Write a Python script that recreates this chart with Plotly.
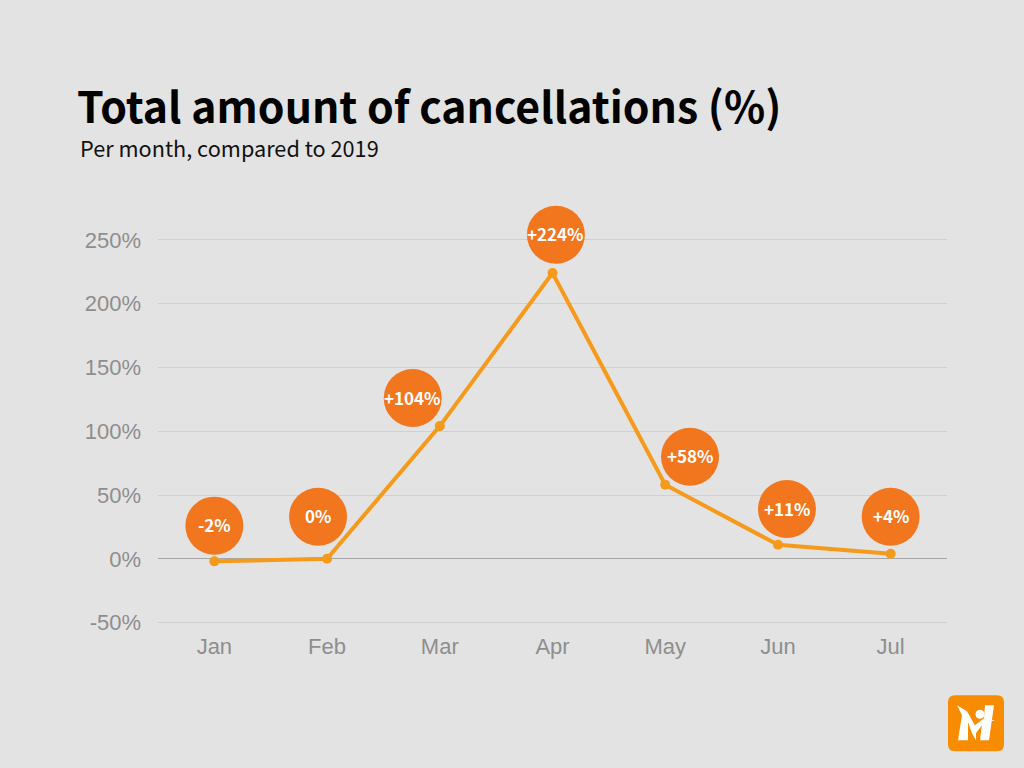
"""
plot.py - Monthly cancellations compared to 2019, line chart with labelled bubbles.
"""
import plotly.graph_objects as go

months = ["Jan", "Feb", "Mar", "Apr", "May", "Jun", "Jul"]
month_idx = [0, 1, 2, 3, 4, 5, 6]
cancellations = [-2, 0, 104, 224, 58, 11, 4]
bubble_labels = ["-2%", "0%", "+104%", "+224%", "+58%", "+11%", "+4%"]
# bubbles sit next to the points, not on them
bubble_x = [0, 0.92, 1.76, 3.03, 4.22, 5.08, 6]
bubble_y = [26, 33, 126, 254, 80, 39, 33]
y_ticks = [-50, 0, 50, 100, 150, 200, 250]
y_tick_labels = ["-50%", "0%", "50%", "100%", "150%", "200%", "250%"]

BG = "#e3e3e3"
LINE = "#f59a1b"
BUBBLE = "#f1761e"
LOGO = "#f78c00"
W, H = 1024, 768
# axis runs past both end ticks so the Apr bubble and the -50 gridline are kept
LEFT, RIGHT, TOP, BOTTOM = 158, 947, 175.5, 628.7


def px_x(x):
    return (x - LEFT) / (RIGHT - LEFT)


def px_y(y):
    return (BOTTOM - y) / (BOTTOM - TOP)


def poly(points):
    return "M" + " L".join(f"{px_x(x):.5f},{px_y(y):.5f}" for x, y in points) + " Z"


def rounded_rect(x0, y0, x1, y1, r):
    return (
        f"M{px_x(x0 + r):.5f},{px_y(y0):.5f} L{px_x(x1 - r):.5f},{px_y(y0):.5f} "
        f"Q{px_x(x1):.5f},{px_y(y0):.5f} {px_x(x1):.5f},{px_y(y0 + r):.5f} "
        f"L{px_x(x1):.5f},{px_y(y1 - r):.5f} "
        f"Q{px_x(x1):.5f},{px_y(y1):.5f} {px_x(x1 - r):.5f},{px_y(y1):.5f} "
        f"L{px_x(x0 + r):.5f},{px_y(y1):.5f} "
        f"Q{px_x(x0):.5f},{px_y(y1):.5f} {px_x(x0):.5f},{px_y(y1 - r):.5f} "
        f"L{px_x(x0):.5f},{px_y(y0 + r):.5f} "
        f"Q{px_x(x0):.5f},{px_y(y0):.5f} {px_x(x0 + r):.5f},{px_y(y0):.5f} Z"
    )


fig = go.Figure()

fig.add_trace(go.Scatter(x=month_idx, y=cancellations, mode="lines+markers",
                         line=dict(color=LINE, width=4),
                         marker=dict(color=LINE, size=10),
                         cliponaxis=False, hoverinfo="skip"))

fig.add_trace(go.Scatter(x=bubble_x, y=bubble_y, mode="markers",
                         marker=dict(color=BUBBLE, size=58),
                         cliponaxis=False, hoverinfo="skip"))

# logo in the bottom right corner
logo_shapes = [
    dict(type="path", xref="paper", yref="paper", path=rounded_rect(948, 695, 1004, 751, 7),
         fillcolor=LOGO, line_width=0, layer="above"),
]
for pts in (
    [(957, 705), (967, 711), (976, 727), (976, 740), (972, 733), (968, 722), (968, 740), (958, 740), (962, 715)],
    [(985, 705), (994, 705), (989, 740), (980, 740), (982, 724), (976, 733), (975, 725), (984, 718)],
    [(974, 726), (984, 719), (995, 720), (984, 723), (976, 732)],
):
    logo_shapes.append(dict(type="path", xref="paper", yref="paper", path=poly(pts),
                            fillcolor="white", line_width=0, layer="above"))
logo_shapes.append(dict(type="circle", xref="paper", yref="paper",
                        x0=px_x(975.5), x1=px_x(984.5), y0=px_y(718.5), y1=px_y(709.5),
                        fillcolor="white", line_width=0, layer="above"))

annotations = [dict(text="Per month, compared to 2019", xref="paper", yref="paper",
                    x=px_x(78), y=px_y(147), xanchor="left", yanchor="middle", showarrow=False,
                    font=dict(family="Noto Sans CJK JP", size=21.7, color="#111111"))]
for bx, by, label in zip(bubble_x, bubble_y, bubble_labels):
    annotations.append(dict(text=f"<b>{label}</b>", x=bx, y=by, xref="x", yref="y", yshift=1,
                            showarrow=False,
                            font=dict(family="Noto Sans CJK JP", size=17, color="white")))

fig.update_layout(
    width=W, height=H,
    margin=dict(l=LEFT, r=W - RIGHT, t=TOP, b=H - BOTTOM),
    paper_bgcolor=BG, plot_bgcolor=BG,
    showlegend=False,
    title=dict(text="<b>Total amount of cancellations (%)</b>",
               x=77 / W, xanchor="left", y=1 - 108 / H, yanchor="middle",
               font=dict(family="Noto Sans CJK JP", size=42.8, color="#000000")),
    annotations=annotations,
    shapes=logo_shapes,
    xaxis=dict(range=[-0.5, 6.5], tickvals=month_idx, ticktext=months, showgrid=False,
               zeroline=False, ticks="", ticklabelstandoff=2,
               tickfont=dict(family="Liberation Sans", size=22, color="#8e8e8e")),
    yaxis=dict(range=[-55, 300], tickvals=y_ticks, ticktext=y_tick_labels, showgrid=True,
               gridcolor="#d0d0d0", gridwidth=1, zeroline=True, zerolinecolor="#a6a6a6", zerolinewidth=1,
               ticks="", ticklabelstandoff=16,
               tickfont=dict(family="Liberation Sans", size=22, color="#8e8e8e")),
)

fig.write_html("out.html", config={"displayModeBar": False},
               post_script="document.body.style.margin='0';")
